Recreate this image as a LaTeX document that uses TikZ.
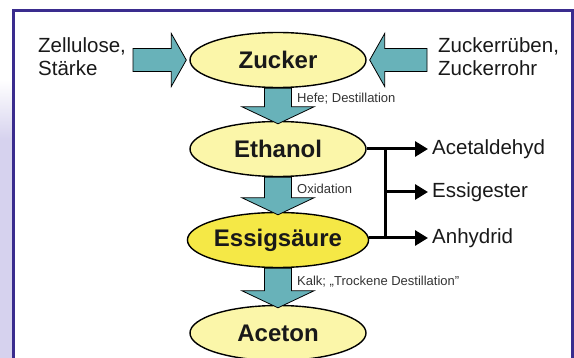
\documentclass[tikz,border=0pt]{standalone}
\usepackage{fontspec}
\setmainfont{Liberation Sans}
\usetikzlibrary{
  shapes.geometric,
  arrows.meta,
  positioning,
  calc
}
\definecolor{chFrame}{HTML}{3A2C8E}
\definecolor{chTeal}{HTML}{68B2B9}
\definecolor{chPale}{HTML}{FBF6A9}
\definecolor{chYellow}{HTML}{F5E846}
\definecolor{chLavender}{HTML}{D6D2EE}
\tikzset{
  % Stoffe (Ellipsen)
  stoffnode/.style={
    ellipse,
    draw=black,
    line width=1.4pt,
    fill=chPale,
    minimum width=176pt,
    minimum height=55pt,
    inner sep=0pt,
    font=\fontsize{24}{28}\selectfont\bfseries,
    text=black!90
  },
  % Rohstoffe und Folgeprodukte
  sidetext/.style={
    font=\fontsize{20.5}{23.5}\selectfont,
    align=left,
    inner sep=0pt,
    text=black!90
  },
  % Reaktionsschritt
  steplabel/.style={
    font=\fontsize{13}{15}\selectfont,
    inner sep=0pt,
    text=black!80
  },
  % breiter Pfeil
  flowarrow/.style={
    fill=chTeal,
    draw=black,
    line width=0.8pt,
    line join=miter
  },
  % Verzweigung
  branchline/.style={
    line width=3pt,
    black
  },
  brancharrow/.style={
    branchline,
    -{Triangle[length=13pt,width=15pt]}
  },
  frameline/.style={
    draw=chFrame,
    line width=3pt
  }
}

% breiter Pfeil nach unten: #1 Schaftanfang, #2 Spitze
\newcommand{\stoffdown}[2]{%
  \draw[flowarrow] ($(#1)+(-13.5,0)$) -- ($(#2)+(-13.5,-17)$) -- ($(#2)+(-36,-17)$)
    -- (#2) -- ($(#2)+(36,-17)$) -- ($(#2)+(13.5,-17)$) -- ($(#1)+(13.5,0)$) -- cycle;}
% breiter Pfeil waagrecht: #1 Schaftanfang, #2 Spitze, #3 Richtung (1 oder -1)
\newcommand{\stoffside}[3]{%
  \draw[flowarrow] ($(#1)+(0,-11.5)$) -- ($(#2)+({-15*#3},-11.5)$) -- ($(#2)+({-15*#3},-26.5)$)
    -- (#2) -- ($(#2)+({-15*#3},26.5)$) -- ($(#2)+({-15*#3},11.5)$) -- ($(#1)+(0,11.5)$) -- cycle;}

\begin{document}
\begin{tikzpicture}[x=1pt, y=-1pt]

\useasboundingbox (0,0) rectangle (574,358);
\clip (0,0) rectangle (574,358);

%% === Hintergrund ===
\shade[top color=white, bottom color=chLavender] (0,80) rectangle (12,140);
\fill[chLavender] (0,140) rectangle (12,358);
\draw[frameline] (13,11) rectangle (572.5,380);

%% === Hauptkette ===
\node[stoffnode] (zucker) at (278,60) {Zucker};
\node[stoffnode] (ethanol) at (278,149) {Ethanol};
\node[stoffnode, fill=chYellow] (essig) at (278,240) {Essigsäure};
\node[stoffnode] (aceton) at (278,333) {Aceton};

% Reaktionspfeile
\stoffdown{zucker.south}{$(ethanol.north)+(0,3)$}
\stoffdown{ethanol.south}{$(essig.north)+(0,3)$}
\stoffdown{essig.south}{$(aceton.north)+(0,3)$}

\node[steplabel, anchor=west] (hefe) at (297,99) {Hefe; Destillation};
\node[steplabel, anchor=west] (oxid) at (297,189) {Oxidation};
\node[steplabel, anchor=west] (kalk) at (297,282) {Kalk; „Trockene Destillation"};

%% === Rohstoffe ===
\node[sidetext, anchor=north west] (zell) at (38,37) {Zellulose,\\Stärke};
\node[sidetext, anchor=north west] (rueben) at (438,37) {Zuckerrüben,\\Zuckerrohr};

\coordinate (lstart) at (133,60);
\coordinate (rstart) at (427,60);
\stoffside{lstart}{$(zucker.west)+(-3,0)$}{1}
\stoffside{rstart}{$(zucker.east)+(3,0)$}{-1}

%% === Folgeprodukte ===
\node[sidetext, anchor=west] (acet) at (432,149) {Acetaldehyd};
\node[sidetext, anchor=west] (ester) at (432,192) {Essigester};
\node[sidetext, anchor=west] (anhy) at (432,238) {Anhydrid};

\coordinate (jtop) at (385,149);
\coordinate (jbot) at (385,238);
\draw[branchline, line join=miter] (ethanol.east) -- (jtop) -- (jbot) -- (essig.east |- jbot);
\draw[brancharrow, shorten >=4pt] (jtop) -- (acet.west);
\draw[brancharrow, shorten >=4pt] (jtop |- ester.west) -- (ester.west);
\draw[brancharrow, shorten >=4pt] (jbot) -- (anhy.west);

\end{tikzpicture}
\end{document}
